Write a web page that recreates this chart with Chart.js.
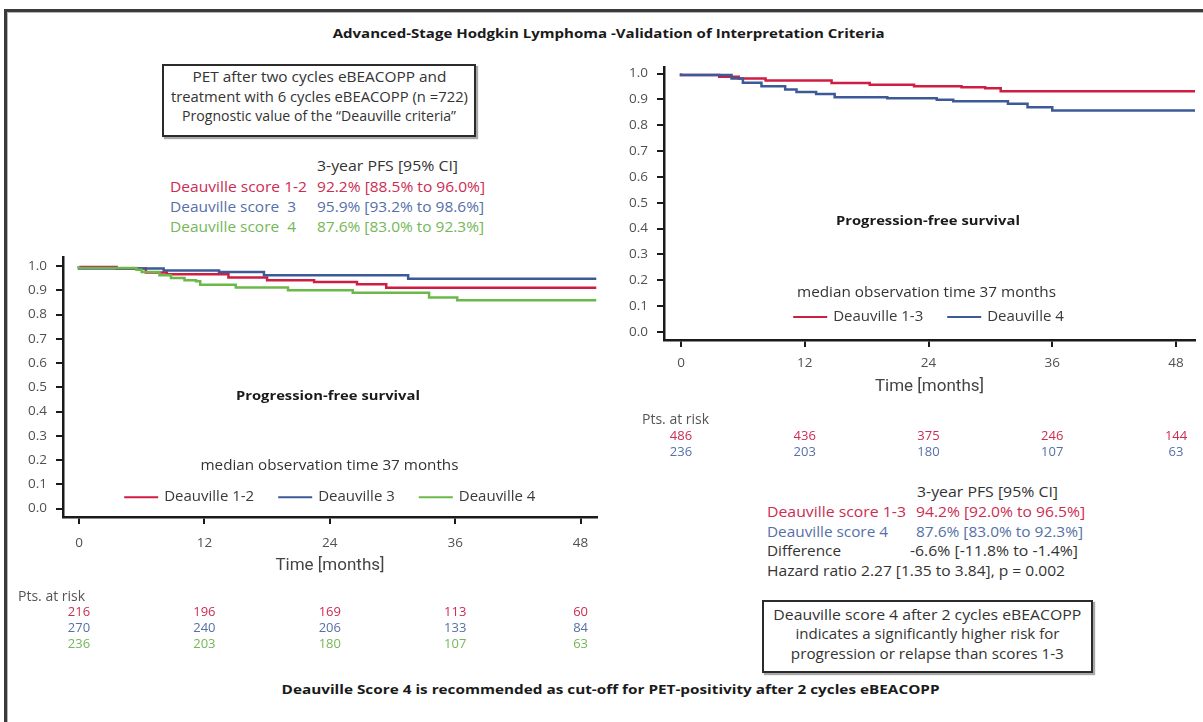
<!DOCTYPE html>
<html>
<head>
<meta charset="utf-8">
<script src="https://cdn.jsdelivr.net/npm/chart.js@4.4.1/dist/chart.umd.min.js"></script>
<style>
  html, body { margin: 0; padding: 0; background: #fff; }
  #page { position: relative; width: 1203px; height: 722px; overflow: hidden; background: #fff;
          font-family: "Open Sans", "DejaVu Sans", sans-serif; color: #333; }
  .frame { position: absolute; left: 4px; top: 9px; width: 1220px; height: 740px;
           border-top: 3px solid #3a3a3a; border-left: 3px solid #3a3a3a; box-shadow: inset 1px 1px 0 #b5b5b5; }
  .box { position: absolute; border: 2px solid #2b2b2b; box-shadow: 2px 2px 1px #a8a8a8; }
  .t { position: absolute; left: 0; top: 0; white-space: nowrap; line-height: 20px; height: 20px; font-size: 14px; }
  .b { font-weight: 700; font-size: 13px; color: #1a1a1a; }
  .red { color: #cc2c52; }
  .blue { color: #5670a8; }
  .green { color: #74b756; }
  canvas { position: absolute; }
</style>
</head>
<body>
<div id="page">
  <div class="frame"></div>

  <div class="t b" data-x="609" data-y="33" data-w="552" data-a="c">Advanced-Stage Hodgkin Lymphoma -Validation of Interpretation Criteria</div>

  <div class="box" style="left:162px; top:64px; width:310px; height:69px;"></div>
  <div class="t" data-x="319" data-y="77" data-w="254" data-a="c">PET after two cycles eBEACOPP and</div>
  <div class="t" data-x="319" data-y="97" data-w="297" data-a="c">treatment with 6 cycles eBEACOPP (n =722)</div>
  <div class="t" data-x="319" data-y="116" data-w="274" data-a="c">Prognostic value of the “Deauville criteria”</div>

  <div class="t" data-x="317" data-y="166" data-w="141" data-a="l">3-year PFS [95% CI]</div>
  <div class="t red" data-x="170" data-y="187" data-w="137" data-a="l">Deauville score 1-2</div>
  <div class="t red" data-x="317" data-y="187" data-w="168" data-a="l">92.2% [88.5% to 96.0%]</div>
  <div class="t blue" data-x="170" data-y="207" data-w="126" data-a="l">Deauville score&nbsp;&nbsp;3</div>
  <div class="t blue" data-x="317" data-y="207" data-w="167" data-a="l">95.9% [93.2% to 98.6%]</div>
  <div class="t green" data-x="170" data-y="227" data-w="126" data-a="l">Deauville score&nbsp;&nbsp;4</div>
  <div class="t green" data-x="317" data-y="227" data-w="167" data-a="l">87.6% [83.0% to 92.3%]</div>

  <canvas id="leftChart" width="610" height="420" style="left:0px; top:240px;"></canvas>
  <canvas id="rightChart" width="593" height="415" style="left:610px; top:50px;"></canvas>

  <div class="t b" data-x="328" data-y="395" data-w="184" data-a="c">Progression-free survival</div>
  <div class="t" data-x="329" data-y="465" data-w="258" data-a="c">median observation time 37 months</div>

  <div class="t b" data-x="928" data-y="220" data-w="184" data-a="c">Progression-free survival</div>
  <div class="t" data-x="926" data-y="292" data-w="259" data-a="c">median observation time 37 months</div>

  <div class="t" data-x="917" data-y="492" data-w="141" data-a="l">3-year PFS [95% CI]</div>
  <div class="t red" data-x="767" data-y="512" data-w="139" data-a="l">Deauville score 1-3</div>
  <div class="t red" data-x="916" data-y="512" data-w="169" data-a="l">94.2% [92.0% to 96.5%]</div>
  <div class="t blue" data-x="767" data-y="532" data-w="121" data-a="l">Deauville score 4</div>
  <div class="t blue" data-x="916" data-y="532" data-w="167" data-a="l">87.6% [83.0% to 92.3%]</div>
  <div class="t" data-x="767" data-y="551" data-w="74" data-a="l">Difference</div>
  <div class="t" data-x="910" data-y="551" data-w="168" data-a="l">-6.6% [-11.8% to -1.4%]</div>
  <div class="t" data-x="767" data-y="571" data-w="298" data-a="l">Hazard ratio 2.27 [1.35 to 3.84], p = 0.002</div>

  <div class="box" style="left:762px; top:600px; width:327px; height:69px;"></div>
  <div class="t" data-x="927" data-y="615" data-w="308" data-a="c">Deauville score 4 after 2 cycles eBEACOPP</div>
  <div class="t" data-x="927" data-y="634" data-w="264" data-a="c">indicates a significantly higher risk for</div>
  <div class="t" data-x="927" data-y="654" data-w="273" data-a="c">progression or relapse than scores 1-3</div>

  <div class="t b" data-x="611" data-y="689" data-w="658" data-a="c">Deauville Score 4 is recommended as cut-off for PET-positivity after 2 cycles eBEACOPP</div>
</div>

<script>
// ---- axis ticks ----
const monthTicks = [0, 12, 24, 36, 48];
const survivalTicks = [0.0, 0.1, 0.2, 0.3, 0.4, 0.5, 0.6, 0.7, 0.8, 0.9, 1.0];

// ---- left panel: PFS by Deauville score (steps: month of change, survival from then on) ----
const score12Months   = [0, 3.6, 6.4, 8.4, 14.3, 18.0, 22.5, 26.6, 29.4, 46.6, 49.5];
const score12Survival = [1.0, 0.996, 0.99, 0.973, 0.966, 0.953, 0.941, 0.934, 0.925, 0.91, 0.91];

const score3Months    = [0, 8.1, 13.4, 17.7, 31.5, 46.2, 49.5];
const score3Survival  = [1.0, 0.99, 0.982, 0.975, 0.962, 0.948, 0.948];

const score4Months    = [0, 5.5, 6.0, 7.7, 8.8, 10.1, 11.2, 11.6, 15.0, 20.0, 26.2, 33.5, 36.2, 39.2, 49.5];
const score4Survival  = [1.0, 0.992, 0.985, 0.975, 0.962, 0.951, 0.941, 0.937, 0.923, 0.911, 0.900, 0.890, 0.870, 0.859, 0.859];

// ---- right panel: Deauville 1-3 vs 4 ----
const score13Months   = [0, 3.7, 5.6, 8.2, 14.6, 18.3, 22.6, 27.2, 29.5, 31.0, 46.4, 49.85];
const score13Survival = [1.0, 0.994, 0.988, 0.981, 0.973, 0.963, 0.957, 0.951, 0.947, 0.943, 0.932, 0.932];

const score4bMonths   = [0, 4.9, 6.0, 7.8, 10.1, 11.2, 13.1, 14.9, 20.0, 24.8, 26.4, 31.7, 33.6, 36.0, 39.0, 49.85];
const score4bSurvival = [1.0, 0.994, 0.981, 0.964, 0.951, 0.938, 0.929, 0.921, 0.908, 0.904, 0.899, 0.893, 0.883, 0.870, 0.857, 0.857];

// ---- patients at risk ----
const riskMonths = [0, 12, 24, 36, 48];
const risk12  = [216, 196, 169, 113, 60];
const risk3   = [270, 240, 206, 133, 84];
const risk4   = [236, 203, 180, 107, 63];
const risk13  = [486, 436, 375, 246, 144];
const risk4b  = [236, 203, 180, 107, 63];

const RED = '#cf1d43', BLUE = '#3d5a98', GREEN = '#6db84a';
const RED_T = '#cc2c52', BLUE_T = '#5670a8', GREEN_T = '#74b756';

const pts = (xs, ys) => xs.map((t, i) => ({ x: t, y: ys[i] }));

// place the html captions
document.querySelectorAll('.t').forEach(el => {
  const x = +el.dataset.x, y = +el.dataset.y, w = +el.dataset.w;
  const nat = el.getBoundingClientRect().width;
  const k = w ? w / nat : 1;
  el.style.top = (y - 10) + 'px';
  if (el.dataset.a === 'c') {
    el.style.left = (x - nat / 2) + 'px';
    el.style.transformOrigin = '50% 50%';
  } else {
    el.style.left = x + 'px';
    el.style.transformOrigin = '0 50%';
  }
  el.style.transform = 'scaleX(' + k + ')';
});

// legend drawn inside the plot area, and the at-risk table under the time axis
const kmExtras = {
  id: 'kmExtras',
  afterDraw(chart, args, opts) {
    const { ctx, chartArea, scales: { x, y } } = chart;
    ctx.save();
    const lg = opts.legend;
    ctx.font = lg.font;
    ctx.textBaseline = 'middle';
    const items = chart.data.datasets.map(d => ({ label: d.label, color: d.borderColor, w: ctx.measureText(d.label).width }));
    const total = items.reduce((s, it) => s + lg.line + lg.gap + it.w, 0) + lg.spacing * (items.length - 1);
    let cx = x.getPixelForValue(lg.atX) - total / 2;
    const cy = y.getPixelForValue(lg.atY);
    items.forEach(it => {
      ctx.strokeStyle = it.color;
      ctx.lineWidth = 2;
      ctx.beginPath();
      ctx.moveTo(cx, cy);
      ctx.lineTo(cx + lg.line, cy);
      ctx.stroke();
      cx += lg.line + lg.gap;
      ctx.fillStyle = '#3a3a3a';
      ctx.textAlign = 'left';
      ctx.fillText(it.label, cx, cy);
      cx += it.w + lg.spacing;
    });

    const rt = opts.risk;
    ctx.font = rt.titleFont;
    ctx.fillStyle = '#555';
    ctx.textAlign = 'left';
    ctx.fillText(rt.title, rt.titleX, chartArea.bottom + rt.titleDy);
    ctx.font = rt.font;
    ctx.textAlign = 'center';
    rt.rows.forEach((row, i) => {
      ctx.fillStyle = row.color;
      row.values.forEach((v, j) => {
        ctx.fillText(String(v), x.getPixelForValue(rt.months[j]), chartArea.bottom + rt.firstDy + i * rt.rowGap);
      });
    });
    ctx.restore();
  }
};

function kmScales(xMin, xMax, yMin, yMax, xAxisH, tickPad, yPad) {
  return {
    x: {
      type: 'linear', min: xMin, max: xMax,
      afterBuildTicks: s => { s.ticks = monthTicks.map(v => ({ value: v })); },
      afterFit: s => { s.height = xAxisH; },
      grid: { drawOnChartArea: false, drawTicks: true, tickLength: 7, color: '#1a1a1a', lineWidth: 2 },
      border: { display: true, color: '#1a1a1a', width: 2.5 },
      ticks: { color: '#505050', font: { family: 'Open Sans', size: 13.5 }, padding: tickPad, maxRotation: 0, callback: v => String(v) },
      title: { display: true, text: 'Time [months]', color: '#444', font: { family: 'Roboto', size: 17 }, padding: { top: 0, bottom: 1 } }
    },
    y: {
      type: 'linear', min: yMin, max: yMax,
      afterBuildTicks: s => { s.ticks = survivalTicks.map(v => ({ value: v })); },
      afterFit: s => { s.width = 50; },
      grid: { drawOnChartArea: false, drawTicks: true, tickLength: 7, color: '#1a1a1a', lineWidth: 2 },
      border: { display: true, color: '#1a1a1a', width: 2.5 },
      ticks: { color: '#505050', font: { family: 'Open Sans', size: 13.5 }, padding: yPad, callback: v => Number(v).toFixed(1) }
    }
  };
}

function kmLine(label, xs, ys, color, order) {
  return { label, data: pts(xs, ys), borderColor: color, backgroundColor: color, borderWidth: 2.5,
           pointRadius: 0, stepped: 'after', fill: false, order };
}

new Chart(document.getElementById('leftChart'), {
  type: 'line',
  data: {
    datasets: [
      kmLine('Deauville 1-2', score12Months, score12Survival, RED, 2),
      kmLine('Deauville 3', score3Months, score3Survival, BLUE, 1),
      kmLine('Deauville 4', score4Months, score4Survival, GREEN, 0)
    ]
  },
  options: {
    responsive: false, animation: false, events: [],
    layout: { padding: { left: 13, right: 13, top: 15, bottom: 83 } },
    scales: kmScales(-1.53, 49.57, -0.0348, 1.0368, 60, 11, 9),
    plugins: {
      legend: { display: false }, tooltip: { enabled: false },
      kmExtras: {
        legend: { atX: 24, atY: 0.047, line: 34, gap: 6, spacing: 24, font: '15px "Open Sans"' },
        risk: {
          title: 'Pts. at risk', titleX: 18, titleDy: 80, titleFont: '14px "Open Sans"',
          font: '13px "Open Sans"', firstDy: 95, rowGap: 16, months: riskMonths,
          rows: [ { values: risk12, color: RED_T }, { values: risk3, color: BLUE_T }, { values: risk4, color: GREEN_T } ]
        }
      }
    }
  },
  plugins: [kmExtras]
});

new Chart(document.getElementById('rightChart'), {
  type: 'line',
  data: {
    datasets: [
      kmLine('Deauville 1-3', score13Months, score13Survival, RED, 1),
      kmLine('Deauville 4', score4bMonths, score4bSurvival, BLUE, 0)
    ]
  },
  options: {
    responsive: false, animation: false, events: [],
    layout: { padding: { left: 4, right: 8, top: 16.5, bottom: 67 } },
    scales: kmScales(-1.65, 49.84, -0.031, 1.025, 58, 8, 9),
    plugins: {
      legend: { display: false }, tooltip: { enabled: false },
      kmExtras: {
        legend: { atX: 24, atY: 0.058, line: 34, gap: 6, spacing: 24, font: '15px "Open Sans"' },
        risk: {
          title: 'Pts. at risk', titleX: 32, titleDy: 80, titleFont: '14px "Open Sans"',
          font: '13px "Open Sans"', firstDy: 96, rowGap: 16, months: riskMonths,
          rows: [ { values: risk13, color: RED_T }, { values: risk4b, color: BLUE_T } ]
        }
      }
    }
  },
  plugins: [kmExtras]
});
</script>
</body>
</html>
